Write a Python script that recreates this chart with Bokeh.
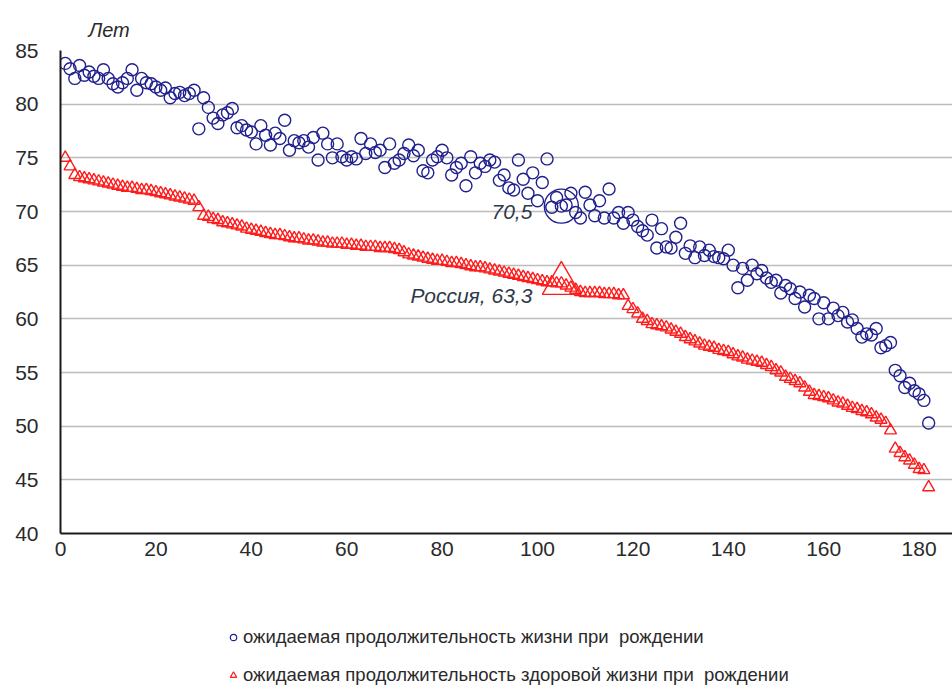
from bokeh.plotting import figure
from bokeh.layouts import column
from bokeh.models import FixedTicker, Label, Legend, LegendItem, Range1d
from bokeh.embed import file_html
from bokeh.resources import INLINE

# ---------------- data ----------------
rank = list(range(1, 183))

life_exp = [
    83.8, 83.3, 82.4, 83.6, 82.7, 83.0, 82.6, 82.4, 83.2, 82.4,
    81.9, 81.6, 82.0, 82.4, 83.2, 81.3, 82.4, 82.0, 81.9, 81.6,
    81.3, 81.5, 80.6, 81.0, 81.1, 80.8, 81.0, 81.3, 77.7, 80.6,
    79.7, 78.7, 78.2, 79.0, 79.2, 79.6, 77.8, 78.0, 77.6, 77.4,
    76.3, 78.0, 77.1, 76.2, 77.3, 76.8, 78.5, 75.7, 76.6, 76.4,
    76.6, 76.0, 76.9, 74.8, 77.3, 76.3, 75.0, 76.3, 75.1, 74.8,
    75.1, 74.9, 76.8, 75.4, 76.3, 75.5, 75.7, 74.1, 76.3, 74.5,
    74.8, 75.4, 76.2, 75.2, 75.7, 73.8, 73.6, 74.8, 75.1, 75.7,
    75.0, 73.4, 74.1, 74.5, 72.4, 75.1, 73.6, 74.5, 74.2, 74.8,
    74.6, 72.9, 73.4, 72.2, 72.0, 74.8, 73.0, 71.7, 73.6, 71.0,
    72.7, 74.9, 70.4, 71.3, 70.5, 70.6, 71.7, 69.9, 69.4, 71.8,
    70.6, 69.6, 71.0, 69.4, 72.1, 69.4, 69.9, 68.9, 69.9, 69.2,
    68.6, 68.2, 67.8, 69.2, 66.6, 68.4, 66.7, 66.6, 67.6, 68.9,
    66.1, 66.8, 65.7, 66.7, 65.9, 66.4, 65.8, 65.7, 65.6, 66.4,
    65.0, 62.9, 64.7, 63.6, 65.0, 64.2, 64.5, 63.8, 63.4, 63.6,
    62.4, 63.1, 62.8, 61.9, 62.5, 61.1, 62.2, 61.9, 60.0, 61.5,
    60.0, 61.0, 60.3, 60.6, 59.7, 59.9, 59.1, 58.3, 58.6, 58.5,
    59.1, 57.3, 57.5, 57.8, 55.2, 54.7, 53.6, 54.0, 53.3, 53.0,
    52.4, 50.3,
]

healthy_life_exp = [
    75.0, 74.2, 73.4, 73.2, 73.1, 73.0, 72.9, 72.8, 72.7, 72.6,
    72.5, 72.4, 72.3, 72.2, 72.2, 72.1, 72.0, 72.0, 71.9, 71.8,
    71.7, 71.6, 71.5, 71.4, 71.3, 71.2, 71.1, 71.0, 70.4, 69.6,
    69.5, 69.3, 69.2, 69.0, 68.9, 68.8, 68.7, 68.6, 68.4, 68.3,
    68.2, 68.1, 68.0, 67.9, 67.8, 67.8, 67.7, 67.6, 67.5, 67.5,
    67.4, 67.3, 67.3, 67.2, 67.1, 67.1, 67.0, 67.0, 67.0, 66.9,
    66.9, 66.8, 66.8, 66.7, 66.7, 66.7, 66.6, 66.6, 66.6, 66.5,
    66.4, 66.2, 66.0, 65.9, 65.8, 65.7, 65.6, 65.5, 65.4, 65.4,
    65.3, 65.2, 65.2, 65.1, 65.0, 64.9, 64.8, 64.8, 64.7, 64.6,
    64.5, 64.4, 64.3, 64.2, 64.1, 64.0, 63.9, 63.8, 63.7, 63.6,
    63.5, 63.4, 63.4, 63.3, 63.3, 63.1, 62.9, 62.7, 62.5, 62.4,
    62.4, 62.4, 62.4, 62.3, 62.3, 62.3, 62.2, 62.2, 61.2, 60.9,
    60.5, 60.0, 59.8, 59.5, 59.4, 59.3, 59.2, 59.0, 58.8, 58.6,
    58.3, 58.1, 57.9, 57.7, 57.5, 57.4, 57.3, 57.1, 57.0, 56.9,
    56.7, 56.5, 56.4, 56.2, 56.1, 56.0, 55.9, 55.7, 55.5, 55.2,
    55.0, 54.6, 54.4, 54.2, 54.0, 53.6, 53.2, 52.9, 52.8, 52.7,
    52.6, 52.4, 52.2, 52.1, 51.9, 51.7, 51.6, 51.4, 51.3, 51.1,
    50.8, 50.6, 50.3, 49.6, 47.9, 47.5, 47.1, 46.8, 46.4, 46.0,
    45.9, 44.3,
]

russia_rank = [105]
russia_le = [70.5]
russia_hle = [63.3]
russia_name = "Россия"

y_ticks = [40, 45, 50, 55, 60, 65, 70, 75, 80, 85]
x_ticks = [0, 20, 40, 60, 80, 100, 120, 140, 160, 180]
y_unit = "Лет"
legend_labels = [
    "ожидаемая продолжительность жизни при  рождении",
    "ожидаемая продолжительность здоровой жизни при  рождении",
]

# ---------------- styling ----------------
BLUE = "#20208e"
RED = "#ff1c1c"
TXT = "#2a2a2a"
ANN = "#2e3a48"
FONT = "Liberation Sans"

p = figure(
    width=952, height=600,
    output_backend="svg", toolbar_location=None,
    x_range=Range1d(0, 187), y_range=Range1d(y_ticks[0], y_ticks[-1]),
    min_border_left=60, min_border_right=0, min_border_top=50, min_border_bottom=67,
)
p.outline_line_color = None
p.background_fill_color = "white"
p.border_fill_color = "white"

# unit label as a left-aligned title above the plot area
p.title.text = y_unit
p.title.align = "left"
p.title.offset = 28
p.title.standoff = 20
p.title.vertical_align = "bottom"
p.title.text_font = FONT
p.title.text_font_size = "20px"
p.title.text_font_style = "italic"
p.title.text_color = TXT

p.xgrid.grid_line_color = None
p.ygrid.grid_line_color = "#bcbcbc"
p.ygrid.grid_line_width = 1.5
p.yaxis.ticker = FixedTicker(ticks=y_ticks)
p.xaxis.ticker = FixedTicker(ticks=x_ticks)

for ax in (p.xaxis[0], p.yaxis[0]):
    ax.axis_line_color = "#1a1a1a"
    ax.axis_line_width = 2
    ax.major_tick_out = 0
    ax.major_tick_in = 0
    ax.minor_tick_out = 0
    ax.minor_tick_in = 0
    ax.major_label_text_font = FONT
    ax.major_label_text_font_size = "21px"
    ax.major_label_text_color = TXT
p.yaxis.major_label_standoff = 22
p.xaxis.major_label_standoff = 8

r_le = p.scatter(rank, life_exp, marker="circle", size=12,
                 fill_color=None, line_color=BLUE, line_width=1.4)
r_hle = p.scatter(rank, healthy_life_exp, marker="triangle", size=12,
                  fill_color=None, line_color=RED, line_width=1.4)

# Russia highlight
p.scatter(russia_rank, russia_le, marker="circle", size=34,
          fill_color=None, line_color=BLUE, line_width=1.4)
p.scatter(russia_rank, russia_hle, marker="triangle", size=38,
          fill_color=None, line_color=RED, line_width=1.4)

def fmt(v):
    return f"{v:.1f}".replace(".", ",")

p.add_layout(Label(x=russia_rank[0], y=russia_le[0], text=fmt(russia_le[0]),
                   x_offset=-29, y_offset=-6, text_align="right", text_baseline="middle",
                   text_font=FONT, text_font_size="21px", text_font_style="italic",
                   text_color=ANN))
p.add_layout(Label(x=russia_rank[0], y=russia_hle[0],
                   text=f"{russia_name}, {fmt(russia_hle[0])}",
                   x_offset=-29, y_offset=-12, text_align="right", text_baseline="middle",
                   text_font=FONT, text_font_size="21px", text_font_style="italic",
                   text_color=ANN))

# ---------------- legend strip below the chart ----------------
lg = figure(
    width=952, height=86,
    output_backend="svg", toolbar_location=None,
    x_range=Range1d(0, 1), y_range=Range1d(0, 1),
    x_axis_location=None, y_axis_location=None,
    min_border=0, min_border_left=0, min_border_right=0,
    min_border_top=0, min_border_bottom=0,
)
lg.outline_line_color = None
lg.xgrid.grid_line_color = None
lg.ygrid.grid_line_color = None
# proxy renderers (their single point lies outside this strip's ranges,
# so only their legend glyphs are seen)
lg_le = lg.scatter(x=rank[:1], y=life_exp[:1], marker="circle", size=12,
                   fill_color=None, line_color=BLUE, line_width=1.2)
lg_hle = lg.scatter(x=rank[:1], y=healthy_life_exp[:1], marker="triangle", size=12,
                    fill_color=None, line_color=RED, line_width=1.2)

legend = Legend(
    items=[LegendItem(label=legend_labels[0], renderers=[lg_le]),
           LegendItem(label=legend_labels[1], renderers=[lg_hle])],
    location=(165, 0),
    orientation="vertical",
    label_text_font=FONT, label_text_font_size="18.5px", label_text_color=TXT,
    glyph_width=16, glyph_height=22, label_standoff=2, label_height=22,
    spacing=16, padding=0, margin=0,
    border_line_color=None, background_fill_alpha=0,
)
lg.add_layout(legend, "center")

layout = column(p, lg, spacing=0)
open("out.html", "w").write(file_html(layout, INLINE))
